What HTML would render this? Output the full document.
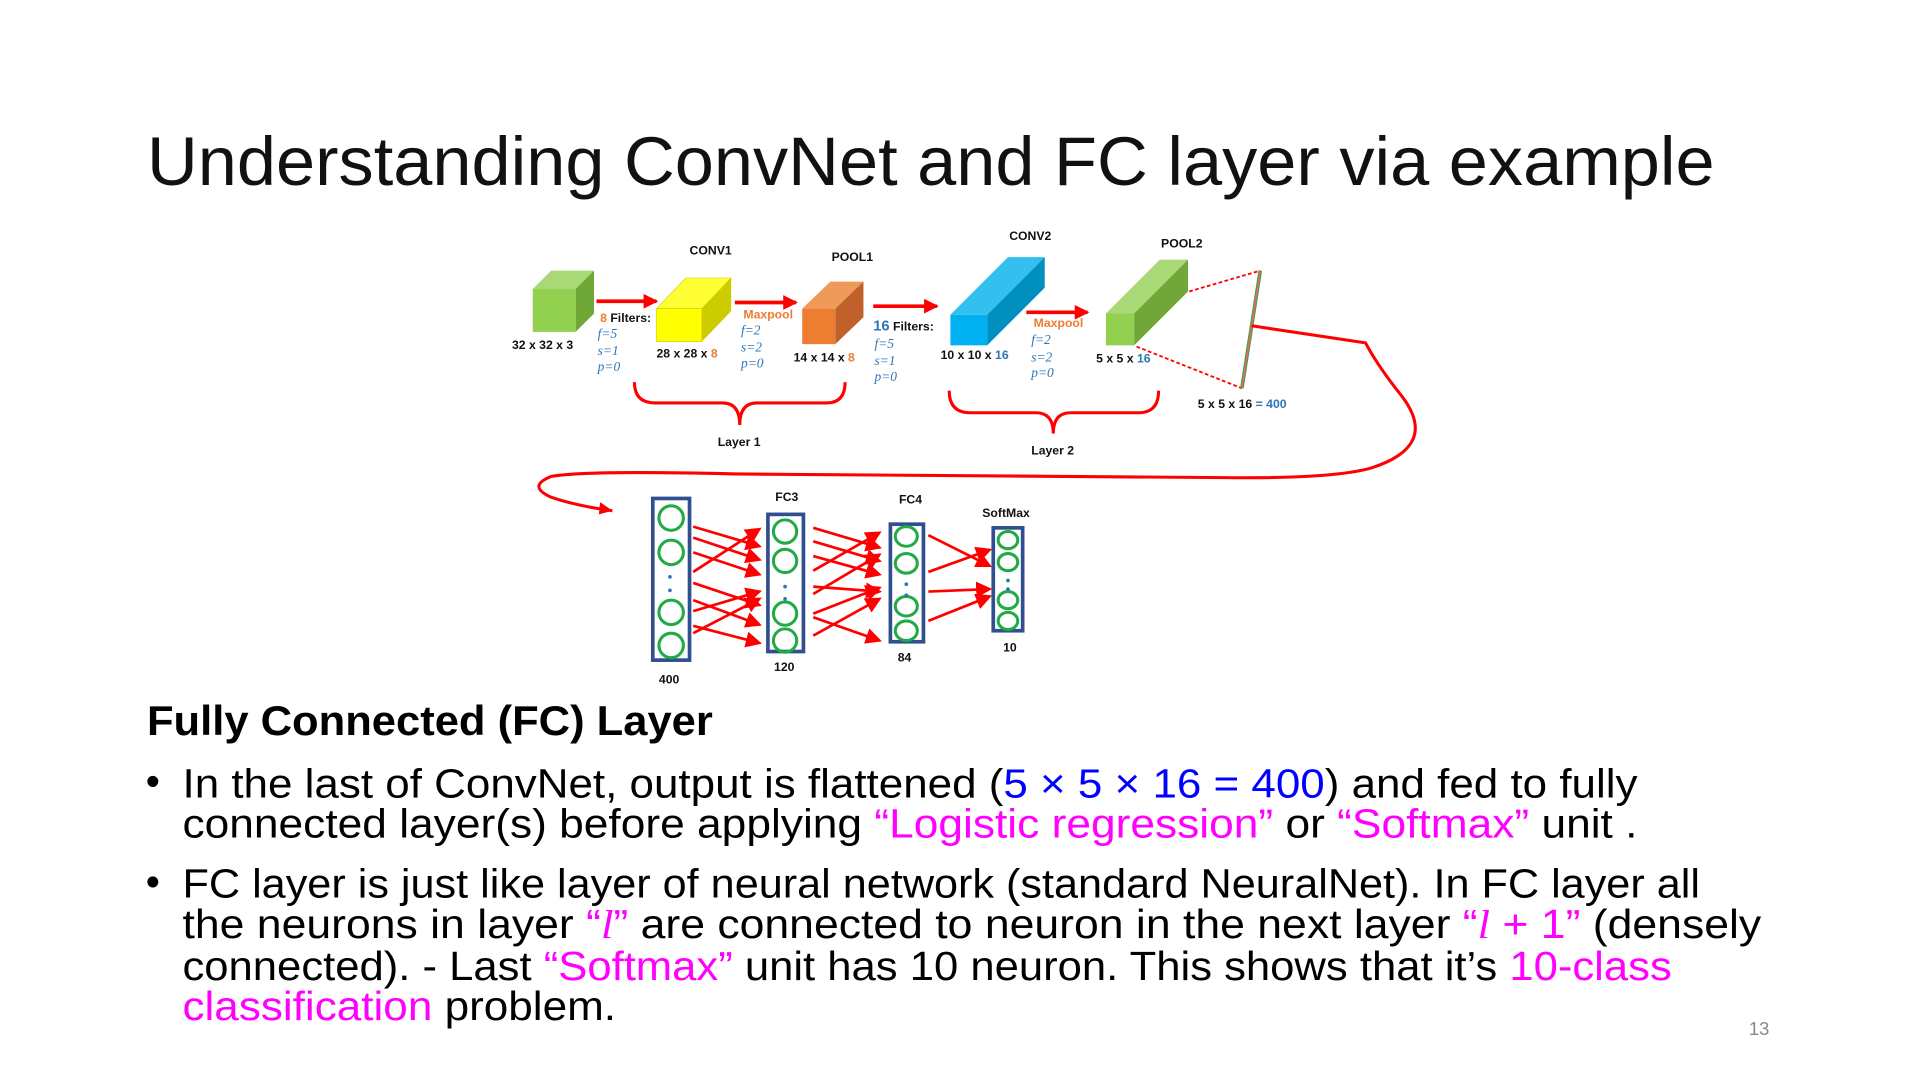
<!DOCTYPE html>
<html><head><meta charset="utf-8"><style>
html,body{margin:0;padding:0;background:#fff;}
svg{display:block;}
text{font-family:"Liberation Sans",sans-serif;}
.s{font-size:10px;font-weight:bold;fill:#111;}
.p{font-family:"Liberation Serif",serif;font-style:italic;font-size:11px;fill:#2e75b6;}
.o{fill:#ed7d31;}
.b{fill:#2e75b6;}
.bt{font-size:33px;fill:#000;}
</style></head><body>
<svg width="1920" height="1080" viewBox="0 0 1552 873" xmlns="http://www.w3.org/2000/svg">
<defs>
<marker id="ah" markerWidth="6" markerHeight="6" refX="5" refY="3" orient="auto" markerUnits="strokeWidth"><path d="M0,0 L6,3 L0,6 z" fill="#ff0000"/></marker>
<marker id="ah2" markerWidth="4" markerHeight="4" refX="3.5" refY="2" orient="auto" markerUnits="strokeWidth"><path d="M0,0 L4,2 L0,4 z" fill="#ff0000"/></marker>
</defs>
<g transform="translate(0,-1) scale(0.99)">
<text x="120" y="152" font-size="56" fill="#111" textLength="1280" lengthAdjust="spacingAndGlyphs">Understanding ConvNet and FC layer via example</text>

<g>
<polygon points="435,237 450,222 485,222 470,237" fill="#a9d977"/>
<polygon points="470,237 485,222 485,257 470,272" fill="#70a838"/>
<rect x="435" y="237" width="35" height="35" fill="#92d050"/>

<polygon points="536,253 560,228 597,228 573,253" fill="#ffff33" stroke="#cccc00" stroke-width="0.5"/>
<polygon points="573,253 597,228 597,255 573,280" fill="#cccc00"/>
<rect x="536" y="253" width="37" height="27" fill="#ffff00" stroke="#cccc00" stroke-width="0.5"/>

<polygon points="655,253 678,231 705,231 682,253" fill="#f09a5a"/>
<polygon points="682,253 705,231 705,260 682,282" fill="#c0602a"/>
<rect x="655" y="253" width="27" height="29" fill="#ed7d31"/>

<polygon points="776,258 823,211 853,211 806,258" fill="#33c0f0"/>
<polygon points="806,258 853,211 853,236 806,283" fill="#0090c0"/>
<rect x="776" y="258" width="30" height="25" fill="#00b0f0"/>

<polygon points="903,257 947,213 970,213 926,257" fill="#a9d977"/>
<polygon points="926,257 970,213 970,239 926,283" fill="#70a838"/>
<rect x="903" y="257" width="23" height="26" fill="#92d050"/>
</g>

<g stroke="#ff0000" stroke-width="3" fill="none">
<line x1="487" y1="247" x2="536" y2="247" marker-end="url(#ah2)"/>
<line x1="600" y1="248" x2="650" y2="248" marker-end="url(#ah2)"/>
<line x1="713" y1="251" x2="765" y2="251" marker-end="url(#ah2)"/>
<line x1="838" y1="256" x2="888" y2="256" marker-end="url(#ah2)"/>
</g>
<g stroke="#ff0000" stroke-width="1.5" stroke-dasharray="3,2" fill="none">
<line x1="971" y1="239" x2="1029" y2="222"/>
<line x1="928" y1="284" x2="1014" y2="318"/>
</g>
<line x1="1029" y1="222" x2="1014" y2="318" stroke="#3aa050" stroke-width="3"/>
<line x1="1029" y1="222" x2="1014" y2="318" stroke="#ff6060" stroke-width="1.2"/>

<text class="s" x="418" y="286">32 x 32 x 3</text>
<text class="s" x="490" y="264"><tspan class="o">8</tspan> Filters:</text>
<text class="p" x="488" y="277">f=5</text><text class="p" x="488" y="291">s=1</text><text class="p" x="488" y="304">p=0</text>
<text class="s" x="563" y="209">CONV1</text>
<text class="s" x="536" y="293">28 x 28 x <tspan class="o">8</tspan></text>
<text class="s o" x="607" y="261">Maxpool</text>
<text class="p" x="605" y="274">f=2</text><text class="p" x="605" y="288">s=2</text><text class="p" x="605" y="301">p=0</text>
<text class="s" x="679" y="214">POOL1</text>
<text class="s" x="648" y="296">14 x 14 x <tspan class="o">8</tspan></text>
<text class="s" x="713" y="271"><tspan class="b" font-size="12">16</tspan> Filters:</text>
<text class="p" x="714" y="285">f=5</text><text class="p" x="714" y="299">s=1</text><text class="p" x="714" y="312">p=0</text>
<text class="s" x="824" y="197">CONV2</text>
<text class="s" x="768" y="294">10 x 10 x <tspan class="b">16</tspan></text>
<text class="s o" x="844" y="268">Maxpool</text>
<text class="p" x="842" y="282">f=2</text><text class="p" x="842" y="296">s=2</text><text class="p" x="842" y="309">p=0</text>
<text class="s" x="948" y="203">POOL2</text>
<text class="s" x="895" y="297">5 x 5 x <tspan class="b">16</tspan></text>
<text class="s" x="978" y="334">5 x 5 x 16 <tspan class="b">= 400</tspan></text>

<g stroke="#ff0000" stroke-width="2.5" fill="none">
<path d="M518,313 Q518,330 535,330 L590,330 Q604,330 604,348 Q604,330 618,330 L675,330 Q690,330 690,313"/>
<path d="M775,320 Q775,338 792,338 L846,338 Q860,338 860,355 Q860,338 874,338 L930,338 Q946,338 946,320"/>
<path d="M1022,267 L1115,281 Q1125,300 1145,325 Q1175,365 1120,383 Q1090,392 1000,391 L600,388 Q480,385 450,390 Q430,398 450,407 Q470,414 500,418" />
</g>
<path d="M500,418 L490,411 L489,421 z" fill="#ff0000"/>
<text class="s" x="586" y="365">Layer 1</text>
<text class="s" x="842" y="372">Layer 2</text>

<g stroke="#2f4f8f" stroke-width="3" fill="#fff">
<rect x="533" y="408" width="30" height="132"/>
<rect x="627" y="421" width="29" height="112"/>
<rect x="727" y="429" width="27" height="96"/>
<rect x="811" y="432" width="24" height="84"/>
</g>
<g stroke="#22aa44" stroke-width="2.5" fill="none">
<circle cx="548" cy="424" r="10"/><circle cx="548" cy="452" r="10"/><circle cx="548" cy="501" r="10"/><circle cx="548" cy="528" r="10"/>
<circle cx="641" cy="435" r="9.5"/><circle cx="641" cy="459" r="9.5"/><circle cx="641" cy="502" r="9.5"/><circle cx="641" cy="524" r="9.5"/>
<ellipse cx="740" cy="439" rx="9" ry="8"/><ellipse cx="740" cy="461" rx="9" ry="8"/><ellipse cx="740" cy="496" rx="9" ry="8"/><ellipse cx="740" cy="516" rx="9" ry="8"/>
<ellipse cx="823" cy="442" rx="8" ry="7"/><ellipse cx="823" cy="460" rx="8" ry="7"/><ellipse cx="823" cy="491" rx="8" ry="7"/><ellipse cx="823" cy="508" rx="8" ry="7"/>
</g>
<g fill="#2e75b6">
<circle cx="547" cy="472" r="1.5"/><circle cx="547" cy="483" r="1.5"/>
<circle cx="641" cy="480" r="1.5"/><circle cx="641" cy="490" r="1.5"/>
<circle cx="740" cy="478" r="1.5"/><circle cx="740" cy="487" r="1.5"/>
<circle cx="823" cy="475" r="1.5"/><circle cx="823" cy="482" r="1.5"/>
</g>
<g stroke="#ff0000" stroke-width="2.2" marker-end="url(#ah)">
<line x1="566" y1="431" x2="620" y2="447"/>
<line x1="566" y1="440" x2="620" y2="458"/>
<line x1="566" y1="452" x2="620" y2="470"/>
<line x1="566" y1="468" x2="620" y2="433"/>
<line x1="566" y1="477" x2="620" y2="495"/>
<line x1="566" y1="491" x2="620" y2="511"/>
<line x1="566" y1="500" x2="620" y2="484"/>
<line x1="566" y1="518" x2="620" y2="490"/>
<line x1="566" y1="512" x2="620" y2="526"/>
<line x1="664" y1="432" x2="718" y2="448"/>
<line x1="664" y1="443" x2="718" y2="459"/>
<line x1="664" y1="455" x2="718" y2="470"/>
<line x1="664" y1="467" x2="718" y2="436"/>
<line x1="664" y1="480" x2="718" y2="484"/>
<line x1="664" y1="486" x2="718" y2="454"/>
<line x1="664" y1="502" x2="718" y2="481"/>
<line x1="664" y1="505" x2="718" y2="524"/>
<line x1="664" y1="520" x2="718" y2="490"/>
<line x1="758" y1="438" x2="808" y2="463"/>
<line x1="758" y1="468" x2="808" y2="450"/>
<line x1="758" y1="484" x2="808" y2="482"/>
<line x1="758" y1="508" x2="808" y2="488"/>
</g>
<text class="s" x="633" y="410">FC3</text>
<text class="s" x="734" y="412">FC4</text>
<text class="s" x="802" y="423">SoftMax</text>
<text class="s" x="538" y="559">400</text>
<text class="s" x="632" y="549">120</text>
<text class="s" x="733" y="541">84</text>
<text class="s" x="819" y="533">10</text>

<text x="120" y="601" font-size="34" font-weight="bold" fill="#000" textLength="462" lengthAdjust="spacingAndGlyphs">Fully Connected (FC) Layer</text>
<text class="bt" x="119" y="650">•</text>
<text class="bt" x="119" y="732">•</text>
<text class="bt" x="149" y="652" textLength="1188" lengthAdjust="spacingAndGlyphs">In the last of ConvNet, output is flattened (<tspan fill="#0000ff">5 × 5 × 16 = 400</tspan>) and fed to fully</text>
<text class="bt" x="149" y="685" textLength="1188" lengthAdjust="spacingAndGlyphs">connected layer(s) before applying <tspan fill="#ff00ff">“Logistic regression”</tspan> or <tspan fill="#ff00ff">“Softmax”</tspan> unit .</text>
<text class="bt" x="149" y="734" textLength="1239" lengthAdjust="spacingAndGlyphs">FC layer is just like layer of neural network (standard NeuralNet). In FC layer all</text>
<text class="bt" x="149" y="767" textLength="1289" lengthAdjust="spacingAndGlyphs">the neurons in layer <tspan fill="#ff00ff">“<tspan font-family="Liberation Serif,serif" font-style="italic">l</tspan>”</tspan> are connected to neuron in the next layer <tspan fill="#ff00ff">“<tspan font-family="Liberation Serif,serif" font-style="italic">l</tspan> + 1”</tspan> (densely</text>
<text class="bt" x="149" y="801" textLength="1216" lengthAdjust="spacingAndGlyphs">connected). - Last <tspan fill="#ff00ff">“Softmax”</tspan> unit has 10 neuron. This shows that it’s <tspan fill="#ff00ff">10-class</tspan></text>
<text class="bt" x="149" y="834" textLength="354" lengthAdjust="spacingAndGlyphs"><tspan fill="#ff00ff">classification</tspan> problem.</text>
<text x="1428" y="846" font-size="15" fill="#888">13</text>
</g>
</svg>
</body></html>
